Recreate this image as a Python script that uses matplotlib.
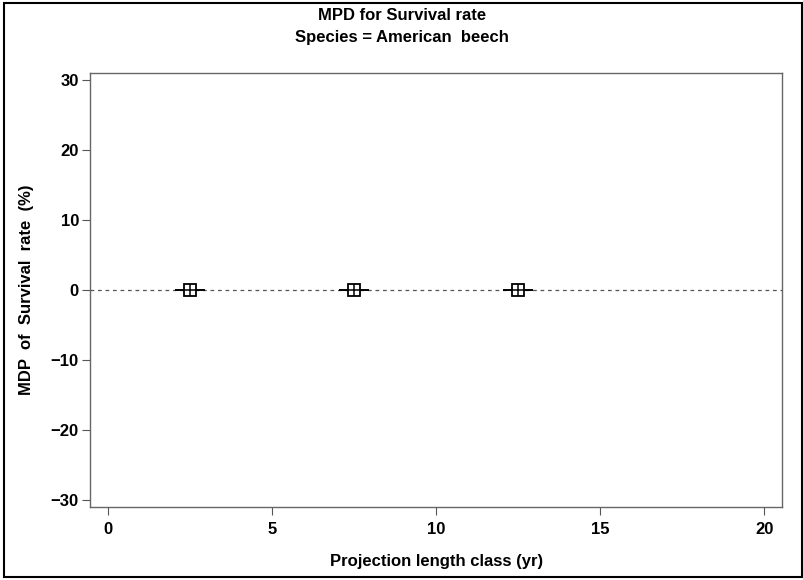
import matplotlib
matplotlib.use("Agg")
import matplotlib.pyplot as plt
from matplotlib.patches import Rectangle

plt.rcParams["font.family"] = ["Liberation Sans", "DejaVu Sans"]
plt.rcParams["font.weight"] = "bold"

# Projection length classes and mean prediction differences
classes = [2.5, 7.5, 12.5]
mdp = [0.0, 0.0, 0.0]
mdp_err = [0.0, 0.0, 0.0]

x_ticks = [0, 5, 10, 15, 20]
y_ticks = [-30, -20, -10, 0, 10, 20, 30]
y_labels = ["\u221230", "\u221220", "\u221210", "0", "10", "20", "30"]

FS = 12

fig = plt.figure(figsize=(8.04, 5.80), dpi=100)
ax = fig.add_axes([0.112, 0.126, 0.861, 0.748])

ax.axhline(0, color="#555555", linestyle=(0, (3, 3)), linewidth=0.9, zorder=1)
ax.errorbar(classes, mdp, yerr=mdp_err, fmt="none", ecolor="black",
            capsize=11, capthick=1.2, elinewidth=1.2, zorder=2)
ax.plot(classes, mdp, linestyle="none", marker="s", markersize=8,
        markerfacecolor="white", markeredgecolor="black", markeredgewidth=1.3,
        zorder=3)
ax.plot(classes, mdp, linestyle="none", marker="+", markersize=8,
        color="black", markeredgewidth=1.1, zorder=4)

ax.set_xlim(-0.55, 20.55)
ax.set_ylim(-31.0, 31.0)
ax.set_xticks(x_ticks)
ax.set_yticks(y_ticks)
ax.set_yticklabels(y_labels)
ax.tick_params(direction="out", length=6, width=0.8, color="#555555",
               labelsize=FS, pad=2)
ax.tick_params(axis="x", pad=5)
for s in ax.spines.values():
    s.set_color("#666666")
    s.set_linewidth(1.0)

ax.set_xlabel("Projection length class (yr)", fontsize=FS, fontweight="bold",
              labelpad=12)
ax.set_ylabel("MDP  of  Survival  rate  (%)", fontsize=FS, fontweight="bold",
              labelpad=12)

fig.text(0.5, 0.973, "MPD for Survival rate", ha="center", va="center",
         fontsize=FS, fontweight="bold")
fig.text(0.5, 0.935, "Species = American  beech", ha="center", va="center",
         fontsize=FS, fontweight="bold")

# outer frame around the whole graphic
fig.patches.append(Rectangle((0.005, 0.005), 0.992, 0.99, transform=fig.transFigure,
                             fill=False, edgecolor="black", linewidth=1.5))

fig.savefig("out.png", dpi=100)
